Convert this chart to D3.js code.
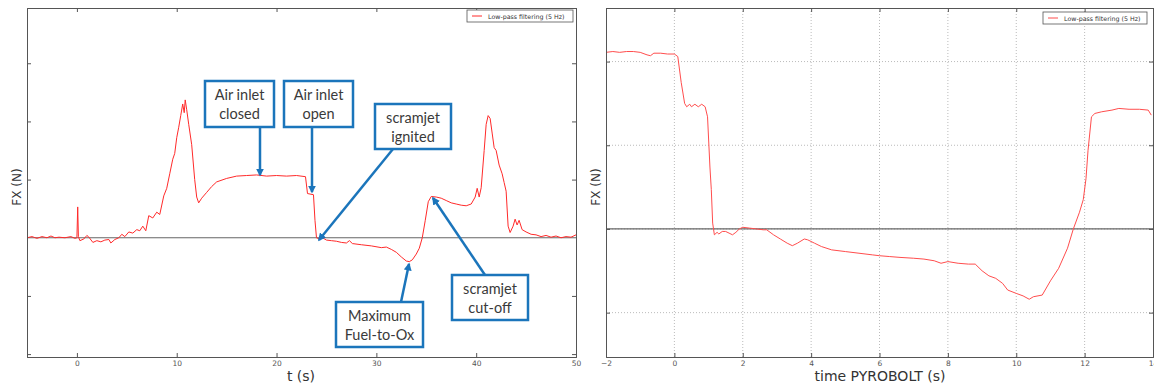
<!DOCTYPE html>
<html>
<head>
<meta charset="utf-8">
<script src="https://cdn.jsdelivr.net/npm/d3@7"></script>
<style>
  body { margin: 0; background: #fff; }
  svg { display: block; }
  .tick text { font-family: "DejaVu Sans", sans-serif; font-size: 7.5px; fill: #555; }
  .domain { stroke: #555; }
  .tick line { stroke: #555; }
</style>
</head>
<body>
<div id="graph"></div>
<script>
// left panel: FX vs t (s), units of one y tick
const leftT = [-5,-4.5,-4,-3.5,-3,-2.6,-2.2,-1.8,-1.2,-0.6,-0.2,0,0.08,0.15,0.3,0.7,1.0,1.2,1.6,2.0,2.4,2.8,3.2,3.4,3.8,4.2,4.5,4.8,5.2,5.6,6.0,6.3,6.6,6.9,7.2,7.6,8.0,8.3,8.7,9.0,9.3,9.6,9.8,10.0,10.2,10.4,10.6,10.75,10.85,11.0,11.2,11.5,11.8,12.0,12.2,12.5,13.0,13.5,14.0,15.0,16.0,17.0,18.0,19.0,20.0,21.0,22.0,22.9,23.1,23.7,23.85,24.0,24.3,24.6,25.0,25.5,26.0,26.5,27.0,27.3,27.6,28.5,29.5,30.5,31.0,31.5,32.0,32.5,33.0,33.3,33.6,34.0,34.3,34.6,34.9,35.2,35.5,36.0,36.5,37.0,37.5,38.0,38.5,39.0,39.5,39.9,40.1,40.3,40.5,40.8,41.0,41.2,41.4,41.6,41.8,42.0,42.3,42.6,42.8,43.0,43.2,43.4,43.7,43.9,44.1,44.3,44.6,45.0,45.5,46.0,46.5,47.0,47.5,48.0,48.5,49.0,49.5,50.0];
const leftFx = [0,0.02,-0.01,0.02,0,0.03,0,0.01,0,0.02,-0.01,0,0.53,0.02,-0.05,-0.02,0.04,0.01,-0.08,-0.05,-0.07,-0.04,-0.03,-0.09,-0.03,0,0.06,0.02,0.1,0.08,0.14,0.12,0.2,0.12,0.38,0.34,0.44,0.4,0.72,0.85,1.1,1.35,1.45,1.72,1.9,2.1,2.3,2.15,2.37,2.2,1.95,1.6,1.0,0.7,0.6,0.68,0.78,0.88,0.96,1.02,1.06,1.07,1.08,1.06,1.07,1.06,1.07,1.05,0.76,0.74,0.3,0,-0.02,0,-0.04,-0.05,-0.06,-0.08,-0.09,-0.05,-0.1,-0.12,-0.14,-0.17,-0.16,-0.2,-0.25,-0.33,-0.4,-0.41,-0.38,-0.28,-0.18,0,0.3,0.62,0.71,0.7,0.68,0.64,0.6,0.58,0.56,0.55,0.58,0.7,0.85,0.7,0.86,1.5,1.95,2.1,2.05,1.8,1.55,1.5,1.25,1.1,0.95,0.8,0.2,0.09,0.2,0.32,0.22,0.3,0.14,0.1,0.06,0.05,0.02,0.04,0.01,0.03,0,0.02,0.01,0.05];
const leftTicks = [0, 10, 20, 30, 40, 50];

// right panel: FX vs time PYROBOLT (s)
const rightT = [-2.0,-1.8,-1.6,-1.4,-1.2,-1.0,-0.8,-0.7,-0.6,-0.4,-0.2,0.0,0.1,0.2,0.3,0.36,0.45,0.5,0.6,0.7,0.8,0.9,0.97,1.04,1.08,1.12,1.17,1.25,1.3,1.4,1.5,1.6,1.7,1.8,1.9,2.0,2.2,2.4,2.6,2.7,2.9,3.1,3.3,3.45,3.6,3.8,3.9,4.1,4.3,4.6,5.0,5.4,5.8,6.0,6.3,6.6,7.0,7.3,7.6,7.8,8.0,8.3,8.6,8.8,9.0,9.2,9.4,9.6,9.75,10.0,10.2,10.38,10.5,10.76,11.0,11.24,11.5,11.67,11.85,11.96,12.04,12.1,12.2,12.3,12.5,12.8,13.0,13.3,13.6,13.86,13.95];
const rightFx = [2.11,2.12,2.11,2.12,2.12,2.11,2.08,2.07,2.1,2.1,2.09,2.09,2.06,1.75,1.5,1.46,1.49,1.46,1.49,1.46,1.49,1.46,1.34,0.74,0.47,0.07,-0.07,-0.04,-0.06,-0.03,-0.03,-0.05,-0.07,-0.04,0,0.02,0.01,0,-0.01,-0.01,-0.07,-0.12,-0.17,-0.2,-0.17,-0.12,-0.13,-0.17,-0.21,-0.25,-0.27,-0.29,-0.31,-0.32,-0.33,-0.34,-0.35,-0.36,-0.38,-0.41,-0.39,-0.41,-0.42,-0.42,-0.5,-0.56,-0.59,-0.65,-0.73,-0.77,-0.8,-0.84,-0.81,-0.79,-0.62,-0.47,-0.23,0,0.2,0.35,0.6,0.94,1.34,1.38,1.4,1.42,1.44,1.43,1.43,1.42,1.36];
const rightTicks = [-2, 0, 2, 4, 6, 8, 10, 12, 14];

const legendLabel = "Low-pass filtering (5 Hz)";

const notes = [
    {lines: ["Air inlet", "closed"], box: [205, 81, 69, 46], from: [260, 127], to: [260, 175]},
    {lines: ["Air inlet", "open"], box: [284, 81, 69, 46], from: [312, 127], to: [312, 192]},
    {lines: ["scramjet", "ignited"], box: [375, 104, 76, 45], from: [393, 149], to: [319, 240]},
    {lines: ["Maximum", "Fuel-to-Ox"], box: [336, 302, 87, 45], from: [401, 302], to: [409, 264]},
    {lines: ["scramjet", "cut-off"], box: [452, 275, 76, 45], from: [485, 275], to: [433, 198]}
];

const width = 1154, height = 387;
const svg = d3.select("#graph").append("svg")
    .attr("width", width)
    .attr("height", height);

svg.append("defs").append("marker")
    .attr("id", "head")
    .attr("viewBox", "0 0 10 10")
    .attr("refX", 8).attr("refY", 5)
    .attr("markerWidth", 3.2).attr("markerHeight", 3.2)
    .attr("orient", "auto")
  .append("path")
    .attr("d", "M0,0L10,5L0,10z")
    .attr("fill", "#1b75bb");

function panel(opt) {
    const x = d3.scaleLinear().domain(opt.xDomain).range([opt.left, opt.right]);
    const y = d3.scaleLinear().domain(opt.yDomain).range([opt.bottom, opt.top]);
    const g = svg.append("g");

    if (opt.grid) {
        g.selectAll(".vg").data(opt.xTicks.slice(1, -1)).enter().append("line")
            .attr("x1", d => x(d)).attr("x2", d => x(d))
            .attr("y1", opt.top).attr("y2", opt.bottom)
            .attr("stroke", "#bbb").attr("stroke-dasharray", "1,2");
        g.selectAll(".hg").data(opt.yTicks).enter().append("line")
            .attr("x1", opt.left).attr("x2", opt.right)
            .attr("y1", d => y(d)).attr("y2", d => y(d))
            .attr("stroke", "#bbb").attr("stroke-dasharray", "1,2");
    }

    // zero line
    g.append("line")
        .attr("x1", opt.left).attr("x2", opt.right)
        .attr("y1", y(0)).attr("y2", y(0))
        .attr("stroke", "#666").attr("stroke-width", 1.2);

    const line = d3.line().x(d => x(d[0])).y(d => y(d[1]));
    g.append("path")
        .datum(d3.zip(opt.t, opt.v))
        .attr("fill", "none")
        .attr("stroke", opt.color)
        .attr("stroke-width", 1)
        .attr("d", line);

    const fmt = d => d < 0 ? "\u2212" + Math.abs(d) : d;
    g.append("g").attr("transform", `translate(0,${opt.bottom})`)
        .call(d3.axisBottom(x).tickValues(opt.xTicks).tickSize(-4).tickPadding(4).tickFormat(fmt));
    g.append("g").attr("transform", `translate(0,${opt.top})`)
        .call(d3.axisTop(x).tickValues(opt.xTicks).tickSize(-4).tickFormat(""));
    g.append("g").attr("transform", `translate(${opt.left},0)`)
        .call(d3.axisLeft(y).tickValues(opt.yTicks).tickSize(-4).tickFormat(""));
    g.append("g").attr("transform", `translate(${opt.right},0)`)
        .call(d3.axisRight(y).tickValues(opt.yTicks).tickSize(-4).tickFormat(""));
    g.selectAll(".domain").attr("stroke", "#555");

    g.append("text")
        .attr("transform", `translate(${opt.left - 6},187) rotate(-90)`)
        .attr("text-anchor", "middle")
        .attr("font-family", "DejaVu Sans, sans-serif").attr("font-size", 12).attr("fill", "#333")
        .text("FX (N)");
    g.append("text")
        .attr("x", opt.xLabelX).attr("y", 381)
        .attr("text-anchor", "middle")
        .attr("font-family", "DejaVu Sans, sans-serif").attr("font-size", 14).attr("fill", "#333")
        .text(opt.xLabel);

    // legend
    const lg = g.append("g").attr("transform", `translate(${opt.legend[0]},${opt.legend[1]})`);
    lg.append("rect").attr("width", opt.legend[2]).attr("height", 12)
        .attr("fill", "#fff").attr("stroke", "#555").attr("stroke-width", 0.8);
    lg.append("line").attr("x1", 5).attr("x2", 15).attr("y1", 6).attr("y2", 6)
        .attr("stroke", opt.color).attr("stroke-width", 1);
    lg.append("text").attr("x", 21).attr("y", 8.5)
        .attr("font-family", "DejaVu Sans, sans-serif").attr("font-size", 6.3).attr("fill", "#333")
        .text(legendLabel);
}

panel({
    xDomain: [-5, 50], yDomain: [-2.05, 3.95],
    left: 27, right: 576, top: 8, bottom: 357,
    t: leftT, v: leftFx, color: "#ff2a2a",
    xTicks: leftTicks, yTicks: [-2, -1, 1, 2, 3],
    grid: false, xLabel: "t (s)", xLabelX: 301,
    legend: [467, 10, 106]
});

panel({
    xDomain: [-2, 14], yDomain: [-1.53, 2.64],
    left: 606, right: 1153, top: 8, bottom: 357,
    t: rightT, v: rightFx, color: "#ff4d4d",
    xTicks: rightTicks, yTicks: [-1, 0, 1, 2],
    grid: true, xLabel: "time PYROBOLT (s)", xLabelX: 880,
    legend: [1043, 12, 104]
});

// annotations on the left panel
const ann = svg.append("g");
notes.forEach(n => {
    ann.append("line")
        .attr("x1", n.from[0]).attr("y1", n.from[1])
        .attr("x2", n.to[0]).attr("y2", n.to[1])
        .attr("stroke", "#1b75bb").attr("stroke-width", 2.5)
        .attr("marker-end", "url(#head)");
    ann.append("rect")
        .attr("x", n.box[0]).attr("y", n.box[1])
        .attr("width", n.box[2]).attr("height", n.box[3])
        .attr("fill", "#fff").attr("stroke", "#1b75bb").attr("stroke-width", 2.5);
    n.lines.forEach((s, i) => {
        ann.append("text")
            .attr("x", n.box[0] + n.box[2] / 2)
            .attr("y", n.box[1] + 19 + i * 19)
            .attr("text-anchor", "middle")
            .attr("font-family", "Lato, sans-serif").attr("font-size", 14.5).attr("fill", "#3a3a3a")
            .text(s);
    });
});
</script>
</body>
</html>
